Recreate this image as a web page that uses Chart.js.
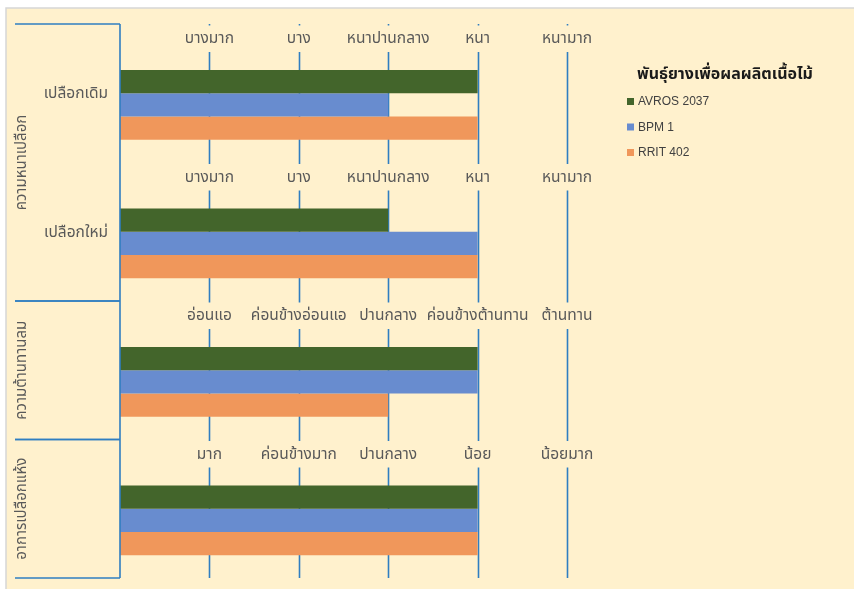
<!DOCTYPE html>
<html lang="th">
<head>
<meta charset="utf-8">
<title>พันธุ์ยางเพื่อผลผลิตเนื้อไม้</title>
<script src="https://cdn.jsdelivr.net/npm/chart.js@4.4.1/dist/chart.umd.min.js"></script>
<style>
  html, body { margin: 0; padding: 0; background: #ffffff; }
  #wrap { position: relative; width: 854px; height: 589px; }
</style>
</head>
<body>
<div id="wrap"><canvas id="chart"></canvas></div>
<script>
// Rows of the chart (one per trait level)
const rowLabels = ['เปลือกเดิม', 'เปลือกใหม่', '', ''];
// Outer groups on the left axis and how many rows each one spans
const groupLabels = ['ความหนาเปลือก', 'ความต้านทานลม', 'อาการเปลือกแห้ง'];
const groupSpans = [2, 1, 1];
// Rating words shown above each row (scale 1..5)
const thicknessTicks = ['บางมาก', 'บาง', 'หนาปานกลาง', 'หนา', 'หนามาก'];
const windTicks = ['อ่อนแอ', 'ค่อนข้างอ่อนแอ', 'ปานกลาง', 'ค่อนข้างต้านทาน', 'ต้านทาน'];
const dryTicks = ['มาก', 'ค่อนข้างมาก', 'ปานกลาง', 'น้อย', 'น้อยมาก'];
const rowTicks = [thicknessTicks, thicknessTicks, windTicks, dryTicks];
// Clone names and their ratings per row
const seriesNames = ['AVROS 2037', 'BPM 1', 'RRIT 402'];
const avros2037 = [4, 3, 4, 4];
const bpm1 = [3, 4, 4, 4];
const rrit402 = [4, 4, 3, 4];
const seriesColors = ['#43652B', '#688CCF', '#F0975B'];
const legendTitle = 'พันธุ์ยางเพื่อผลผลิตเนื้อไม้';

const CREAM = '#FFF1CD';
const LINE_BLUE = '#2F7EC1';
const TEXT_GRAY = '#595959';
const THAI_FONT = '"Noto Sans Thai", "Noto Sans Thai UI", "Leelawadee UI", Tahoma, "Noto Sans", "DejaVu Sans", sans-serif';

// Empty first slot in each row keeps the rating words clear of the bars
const datasets = [
  { label: '', data: rowLabels.map(() => null), backgroundColor: 'rgba(0,0,0,0)' },
  { label: seriesNames[0], data: avros2037, backgroundColor: seriesColors[0] },
  { label: seriesNames[1], data: bpm1, backgroundColor: seriesColors[1] },
  { label: seriesNames[2], data: rrit402, backgroundColor: seriesColors[2] }
];

const backdrop = {
  id: 'backdrop',
  beforeDraw(chart) {
    const ctx = chart.ctx;
    ctx.save();
    ctx.fillStyle = '#ffffff';
    ctx.fillRect(0, 0, chart.width, chart.height);
    ctx.fillStyle = CREAM;
    ctx.fillRect(6, 8, chart.width - 6, chart.height - 8);
    ctx.strokeStyle = '#D6D6D6';
    ctx.lineWidth = 1.5;
    ctx.beginPath();
    ctx.moveTo(6, chart.height);
    ctx.lineTo(6, 8);
    ctx.lineTo(chart.width, 8);
    ctx.stroke();
    ctx.restore();
  }
};

// Vertical rating lines plus the rating words at the top of each row
const ratingGrid = {
  id: 'ratingGrid',
  beforeDatasetsDraw(chart) {
    const { ctx, chartArea } = chart;
    const x = chart.scales.x;
    const y = chart.scales.y;
    const half = (y.getPixelForValue(1) - y.getPixelForValue(0)) / 2;
    ctx.save();
    ctx.strokeStyle = LINE_BLUE;
    ctx.lineWidth = 1.6;
    for (let v = 1; v <= 5; v++) {
      const px = Math.round(x.getPixelForValue(v)) + 0.5;
      ctx.beginPath();
      ctx.moveTo(px, chartArea.top);
      ctx.lineTo(px, chartArea.bottom);
      ctx.stroke();
    }
    ctx.font = '15.5px ' + THAI_FONT;
    ctx.textAlign = 'center';
    ctx.textBaseline = 'middle';
    rowTicks.forEach((ticks, i) => {
      const top = y.getPixelForValue(i) - half;
      ctx.fillStyle = CREAM;
      ctx.fillRect(chartArea.left + 2, top + 1.5, chartArea.right - chartArea.left + 40, 26.5);
      ctx.fillStyle = TEXT_GRAY;
      ticks.forEach((t, k) => {
        ctx.fillText(t, x.getPixelForValue(k + 1), top + 16);
      });
    });
    ctx.restore();
  }
};

// Two-level category axis on the left and the series key on the right
const sideAxes = {
  id: 'sideAxes',
  afterDraw(chart) {
    const { ctx, chartArea } = chart;
    const y = chart.scales.y;
    const half = (y.getPixelForValue(1) - y.getPixelForValue(0)) / 2;
    const left = chartArea.left;
    ctx.save();
    ctx.strokeStyle = LINE_BLUE;
    ctx.lineWidth = 1.6;
    ctx.beginPath();
    ctx.moveTo(left, chartArea.top);
    ctx.lineTo(left, chartArea.bottom);
    ctx.stroke();

    let start = 0;
    groupSpans.forEach((span, g) => {
      const top = y.getPixelForValue(start) - half;
      const bottom = y.getPixelForValue(start + span - 1) + half;
      [top, bottom].forEach(py => {
        ctx.beginPath();
        ctx.moveTo(15, py);
        ctx.lineTo(left, py);
        ctx.stroke();
      });
      ctx.save();
      ctx.translate(23, (top + bottom) / 2);
      ctx.rotate(-Math.PI / 2);
      ctx.font = '15px ' + THAI_FONT;
      ctx.fillStyle = TEXT_GRAY;
      ctx.textAlign = 'center';
      ctx.textBaseline = 'middle';
      ctx.fillText(groupLabels[g], 0, 0);
      ctx.restore();
      start += span;
    });

    ctx.font = '15.5px ' + THAI_FONT;
    ctx.fillStyle = TEXT_GRAY;
    ctx.textAlign = 'right';
    ctx.textBaseline = 'middle';
    rowLabels.forEach((lab, i) => {
      if (lab) ctx.fillText(lab, left - 12, y.getPixelForValue(i) + 2);
    });

    // series key
    ctx.textAlign = 'left';
    ctx.fillStyle = '#1a1a1a';
    ctx.font = 'bold 16px ' + THAI_FONT;
    ctx.fillText(legendTitle, 637, 76);
    ctx.font = '12px "Liberation Sans", Arial, ' + THAI_FONT;
    chart.data.datasets.slice(1).forEach((ds, k) => {
      const cy = 101.5 + k * 25.5;
      ctx.fillStyle = ds.backgroundColor;
      ctx.fillRect(627, cy - 3.5, 7, 7);
      ctx.fillStyle = '#404040';
      ctx.fillText(ds.label, 638, cy + 0.5);
    });
    ctx.restore();
  }
};

new Chart(document.getElementById('chart'), {
  type: 'bar',
  data: { labels: rowLabels.map((l, i) => l || ('row' + i)), datasets },
  options: {
    indexAxis: 'y',
    responsive: true,
    maintainAspectRatio: false,
    animation: false,
    layout: { padding: { left: 120, top: 24, right: 287, bottom: 11 } },
    datasets: { bar: { categoryPercentage: 0.673, barPercentage: 1.0 } },
    scales: {
      x: { type: 'linear', min: 0, max: 5, display: false },
      y: { type: 'category', offset: true, display: false }
    },
    plugins: {
      legend: { display: false },
      tooltip: { enabled: false }
    }
  },
  plugins: [backdrop, ratingGrid, sideAxes]
});
</script>
</body>
</html>
